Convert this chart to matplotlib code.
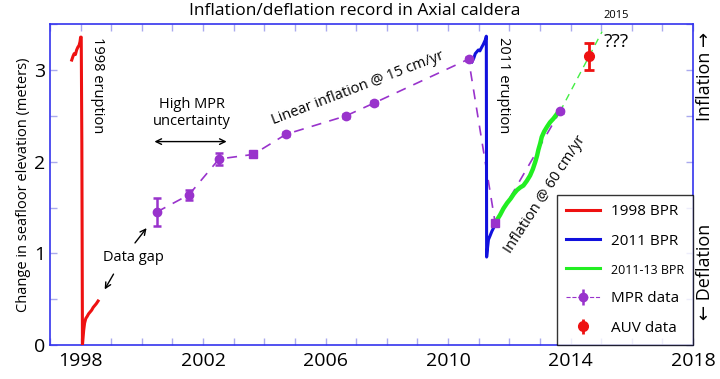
import matplotlib
matplotlib.use("Agg")
import matplotlib.pyplot as plt
from matplotlib.ticker import MultipleLocator, FixedLocator
from matplotlib.lines import Line2D

plt.rcParams['font.family'] = ['Open Sans', 'DejaVu Sans']

# ── Datos ───────────────────────────────────────────────────
# 1998 BPR (rojo)
bpr98_t = [1997.71, 1997.75, 1997.79, 1997.83, 1997.87, 1997.91, 1997.95, 1997.98,
           1998.00, 1998.02, 1998.04, 1998.06, 1998.08, 1998.10, 1998.13, 1998.17,
           1998.21, 1998.26, 1998.31, 1998.36, 1998.41, 1998.46, 1998.51, 1998.57]
bpr98_h = [3.11, 3.15, 3.18, 3.17, 3.22, 3.25, 3.27, 3.31,
           3.36, 3.36, 2.20, 0.00, 0.08, 0.16, 0.24, 0.29,
           0.31, 0.34, 0.36, 0.38, 0.41, 0.43, 0.45, 0.48]

# 2011 BPR (azul)
bpr11_t = [2010.78, 2010.84, 2010.89, 2010.94, 2010.99, 2011.04, 2011.10, 2011.15,
           2011.19, 2011.23, 2011.25, 2011.26, 2011.29, 2011.32, 2011.37, 2011.43, 2011.49, 2011.54]
bpr11_h = [3.09, 3.13, 3.18, 3.20, 3.22, 3.21, 3.25, 3.28,
           3.31, 3.34, 3.37, 0.96, 1.06, 1.15, 1.19, 1.24, 1.28, 1.33]

# 2011-13 BPR (verde)
bpr13_t = [2011.50, 2011.59, 2011.70, 2011.81, 2011.93, 2012.05, 2012.15, 2012.25,
           2012.36, 2012.46, 2012.57, 2012.68, 2012.77, 2012.85, 2012.91, 2012.95,
           2013.01, 2013.06, 2013.14, 2013.23, 2013.33, 2013.44, 2013.53, 2013.62]
bpr13_h = [1.31, 1.36, 1.42, 1.49, 1.55, 1.60, 1.65, 1.69,
           1.72, 1.74, 1.79, 1.85, 1.92, 2.00, 2.07, 2.13,
           2.20, 2.27, 2.33, 2.38, 2.43, 2.47, 2.51, 2.55]

# MPR (morado)
mpr_t   = [2000.48, 2001.54, 2002.52, 2003.64, 2004.71, 2006.66, 2007.58, 2010.67, 2011.54, 2013.66]
mpr_h   = [1.45, 1.64, 2.03, 2.08, 2.30, 2.50, 2.64, 3.12, 1.33, 2.55]
mpr_err = [0.15, 0.055, 0.064, 0.03, 0.02, 0.02, 0.02, 0.02, 0.02, 0.02]

# AUV (rojo)
auv_t   = [2014.59]
auv_h   = [3.15]
auv_err = [0.15]

# Extrapolación 60 cm/yr
trend_t = [2013.66, 2015.03]
trend_h = [2.55, 3.42]

year_ticks = [1998, 2002, 2006, 2010, 2014, 2018]

PURPLE = "#9933CC"
SPINE  = "#3333EE"
TICKC  = "#AAAAEE"

fig = plt.figure(figsize=(7.2, 3.79), dpi=100)
ax = fig.add_axes([50/720, 1-345/379, 643/720, 320.7/379])

ax.plot(trend_t, trend_h, color="#44EE44", lw=1.0, dashes=(5, 4), zorder=2)
ax.plot(mpr_t, mpr_h, color=PURPLE, lw=1.2, dashes=(6, 5), zorder=2)
ax.plot(bpr98_t, bpr98_h, color="#EE1111", lw=2.2, zorder=3)
ax.plot(bpr11_t, bpr11_h, color="#1111DD", lw=2.2, zorder=3)
ax.plot(bpr13_t, bpr13_h, color="#22EE22", lw=3.2, zorder=3)

sq = [3, 8]
circ = [i for i in range(len(mpr_t)) if i not in sq]
ax.errorbar([mpr_t[i] for i in circ], [mpr_h[i] for i in circ],
            yerr=[mpr_err[i] for i in circ], fmt="o", color=PURPLE, ms=6,
            elinewidth=1.8, capsize=3, capthick=1.8, zorder=4)
ax.errorbar([mpr_t[i] for i in sq], [mpr_h[i] for i in sq],
            yerr=[mpr_err[i] for i in sq], fmt="s", color=PURPLE, ms=6,
            elinewidth=1.8, capsize=3, capthick=1.8, zorder=4)
ax.errorbar(auv_t, auv_h, yerr=auv_err, fmt="o", color="#EE1111", ms=7,
            elinewidth=2, capsize=3.5, capthick=2, zorder=4)

ax.set_xlim(1997, 2018)
ax.set_ylim(0, 3.5)
ax.xaxis.set_major_locator(FixedLocator(year_ticks))
ax.xaxis.set_minor_locator(MultipleLocator(1))
ax.yaxis.set_major_locator(MultipleLocator(1))
ax.yaxis.set_minor_locator(MultipleLocator(0.5))
ax.tick_params(which="both", direction="in", top=True, right=True,
               color=TICKC, width=1, labelsize=14, length=5)
ax.tick_params(axis="x", pad=5)
for s in ax.spines.values():
    s.set_color(SPINE)
    s.set_linewidth(1.2)

ax.set_ylabel("Change in seafloor elevation (meters)", fontsize=10.5, labelpad=2)
fig.text(355/720, 1-11/379, "Inflation/deflation record in Axial caldera",
         fontsize=12.5, ha="center", va="center")

# ── Anotaciones ──────────────────────────────────────────────
ax.text(1998.55, 2.84, "1998 eruption", rotation=270, fontsize=10.5, ha="center", va="center")
ax.text(2011.8, 2.84, "2011 eruption", rotation=270, fontsize=10.5, ha="center", va="center")
ax.text(2001.63, 2.53, "High MPR\nuncertainty", fontsize=10.5, ha="center", va="center",
        linespacing=1.2)
ax.annotate("", xy=(2000.32, 2.22), xytext=(2002.86, 2.22),
            arrowprops=dict(arrowstyle="<->", color="black", lw=1))
ax.text(2007.06, 2.80, "Linear inflation @ 15 cm/yr", rotation=21, fontsize=10.5,
        ha="center", va="center", rotation_mode="anchor")
ax.text(2013.17, 1.64, "Inflation @ 60 cm/yr", rotation=57, fontsize=10.5,
        ha="center", va="center", rotation_mode="anchor")
ax.text(1999.71, 0.96, "Data gap", fontsize=10.5, ha="center", va="center")
ax.annotate("", xy=(1998.74, 0.58), xytext=(1999.12, 0.80),
            arrowprops=dict(arrowstyle="->", color="black", lw=1))
ax.annotate("", xy=(2000.21, 1.30), xytext=(1999.72, 1.09),
            arrowprops=dict(arrowstyle="->", color="black", lw=1))
ax.text(2015.5, 3.31, "???", fontsize=14, ha="center", va="center")
ax.text(2015.5, 3.60, "2015", fontsize=8, ha="center", va="center", clip_on=False)

fig.text(705/720, 1-76/379, "Inflation \u2192", rotation=90, fontsize=13,
         ha="center", va="center")
fig.text(705/720, 1-272/379, "\u2190 Deflation", rotation=90, fontsize=13,
         ha="center", va="center")

# ── Leyenda ──────────────────────────────────────────────────
h98 = Line2D([], [], color="#EE1111", lw=2.2)
h11 = Line2D([], [], color="#1111DD", lw=2.2)
h13 = Line2D([], [], color="#22EE22", lw=2.2)
hmpr = ax.errorbar([], [], yerr=[], fmt="o", color=PURPLE, ms=6, ls="--", lw=0.8,
                   elinewidth=1.8, capsize=3, capthick=1.8)
hauv = ax.errorbar([], [], yerr=[], fmt="o", color="#EE1111", ms=7,
                   elinewidth=2, capsize=3.5, capthick=2)
leg = ax.legend([h98, h11, h13, hmpr, hauv],
                ["1998 BPR", "2011 BPR", "2011-13 BPR", "MPR data", "AUV data"],
                loc="lower right", fontsize=11, frameon=True, fancybox=False,
                borderaxespad=0, handlelength=2.2, labelspacing=0.95,
                borderpad=0.6, handletextpad=0.7)
leg.get_frame().set_edgecolor("black")
leg.get_frame().set_linewidth(1)
leg.get_texts()[2].set_fontsize(9)

fig.savefig("out.png", dpi=100)
